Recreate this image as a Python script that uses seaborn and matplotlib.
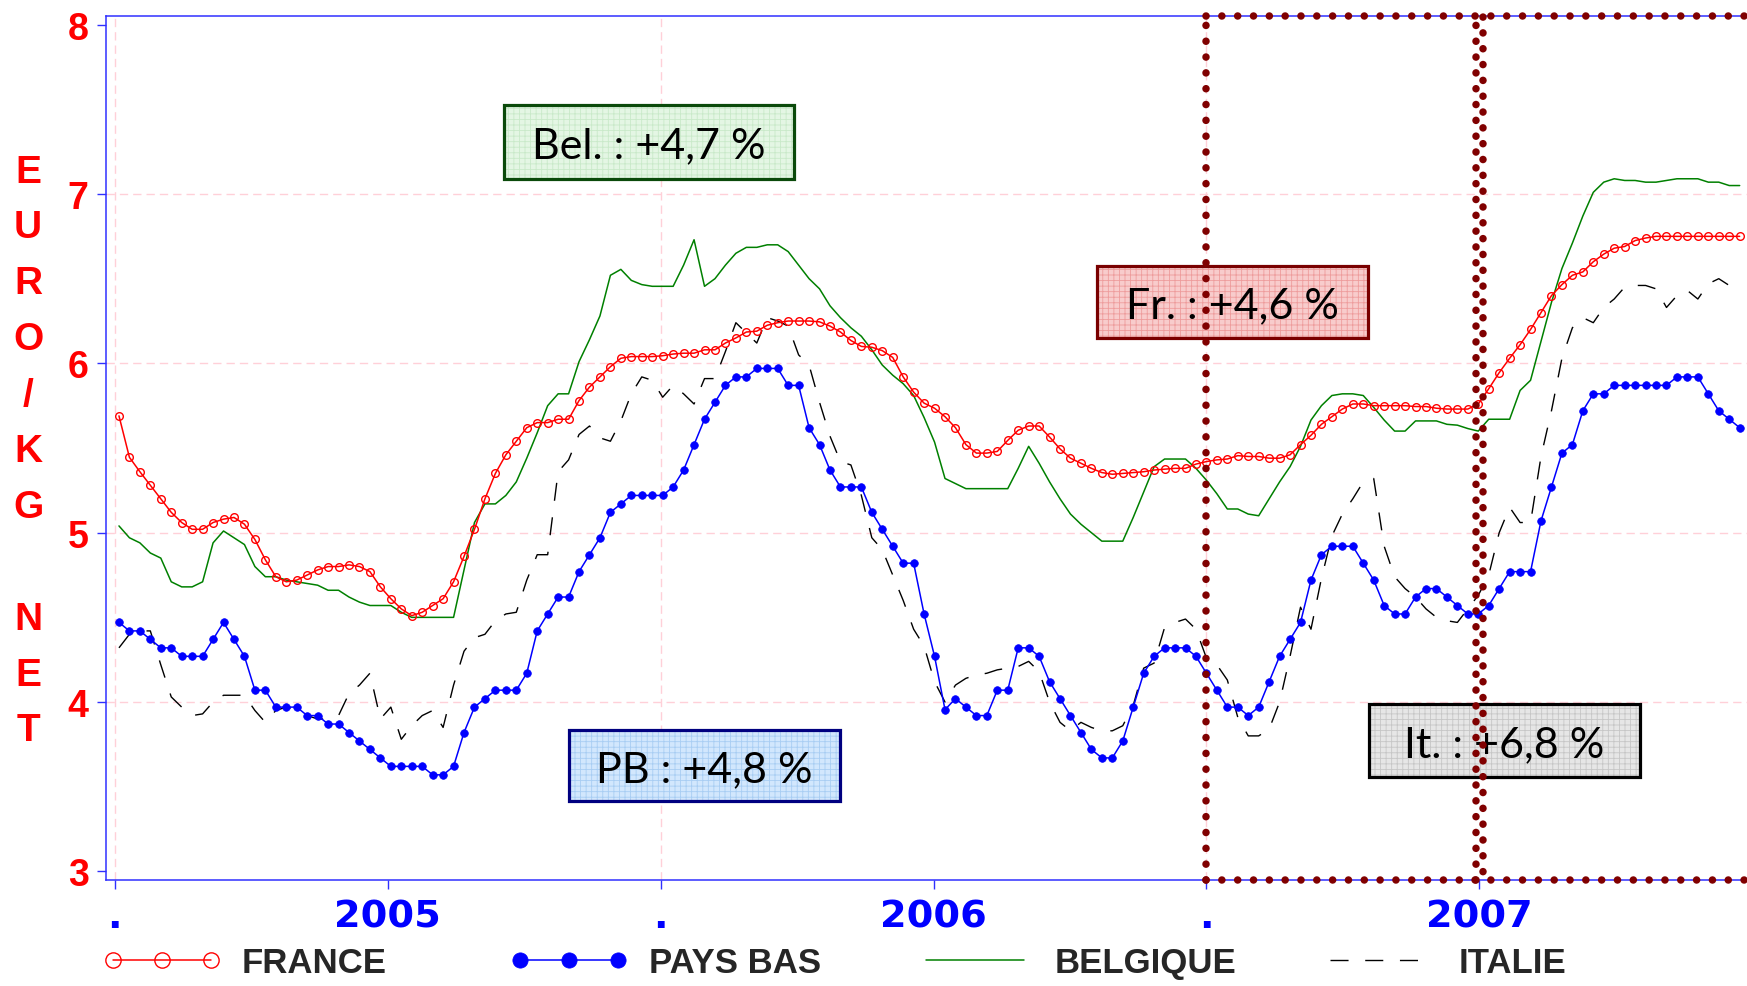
import numpy as np
import pandas as pd
import matplotlib
matplotlib.use("Agg")
import matplotlib.pyplot as plt
from matplotlib.patches import Rectangle
import seaborn as sns

# ---------------- data (weekly prices, EURO/KG NET) ----------------
france = [
    5.69, 5.445, 5.36, 5.28, 5.20, 5.12, 5.06, 5.02, 5.02, 5.06, 5.08, 5.09, 5.05, 4.96, 4.84,
    4.74, 4.71, 4.72, 4.75, 4.78, 4.80, 4.80, 4.81, 4.80, 4.77, 4.68, 4.61,
    4.55, 4.51, 4.53, 4.57, 4.61, 4.71, 4.86, 5.02, 5.20, 5.35, 5.46, 5.54, 5.62, 5.65, 5.65,
    5.67, 5.67, 5.78, 5.86, 5.92, 5.98, 6.03, 6.04, 6.04, 6.04,
    6.045, 6.055, 6.06, 6.06, 6.08, 6.08, 6.12, 6.15, 6.185, 6.19, 6.225, 6.24, 6.25, 6.25,
    6.25, 6.245, 6.22, 6.185, 6.135, 6.10, 6.095, 6.075, 6.035, 5.92, 5.83, 5.765, 5.735, 5.685,
    5.62, 5.52, 5.47, 5.47, 5.48, 5.545, 5.605, 5.63, 5.63, 5.565, 5.495, 5.44, 5.41, 5.38,
    5.355, 5.345, 5.35, 5.355, 5.36, 5.37, 5.375, 5.38, 5.38, 5.405, 5.42, 5.43,
    5.435, 5.455, 5.45, 5.45, 5.44, 5.44, 5.46, 5.52, 5.575, 5.64, 5.685, 5.73, 5.76, 5.76,
    5.75, 5.75, 5.75, 5.75, 5.745, 5.745, 5.735, 5.73, 5.73, 5.73,
    5.76, 5.85, 5.945, 6.03, 6.11, 6.20, 6.30, 6.40, 6.465, 6.52, 6.54, 6.60, 6.645, 6.68,
    6.69, 6.725, 6.74, 6.75, 6.75, 6.75, 6.75, 6.75, 6.75, 6.75, 6.75, 6.75,
]
pays_bas = [
    4.47, 4.42, 4.42, 4.37, 4.32, 4.32, 4.27, 4.27, 4.27, 4.37, 4.47, 4.37, 4.27, 4.07, 4.07,
    3.97, 3.97, 3.97, 3.92, 3.92, 3.87, 3.87, 3.82, 3.77, 3.72, 3.67,
    3.62, 3.62, 3.62, 3.62, 3.57, 3.57, 3.62, 3.82, 3.97, 4.02, 4.07, 4.07, 4.07, 4.17, 4.42,
    4.52, 4.62, 4.62, 4.77, 4.87, 4.97, 5.12, 5.17, 5.22, 5.22, 5.22, 5.22,
    5.27, 5.37, 5.52, 5.67, 5.77, 5.87, 5.92, 5.92, 5.97, 5.97, 5.97, 5.87, 5.87, 5.62, 5.52,
    5.37, 5.27, 5.27, 5.27, 5.12, 5.02, 4.92, 4.82, 4.82, 4.52, 4.27, 3.955,
    4.02, 3.97, 3.92, 3.92, 4.07, 4.07, 4.32, 4.32, 4.27, 4.12, 4.02, 3.92, 3.82, 3.72, 3.67,
    3.67, 3.77, 3.97, 4.17, 4.27, 4.32, 4.32, 4.32, 4.27, 4.17, 4.07, 3.97,
    3.97, 3.92, 3.97, 4.12, 4.27, 4.37, 4.47, 4.72, 4.87, 4.92, 4.92, 4.92, 4.82, 4.72, 4.57,
    4.52, 4.52, 4.62, 4.67, 4.67, 4.62, 4.57, 4.52,
    4.52, 4.57, 4.67, 4.77, 4.77, 4.77, 5.07, 5.27, 5.47, 5.52, 5.72, 5.82, 5.82, 5.87, 5.87,
    5.87, 5.87, 5.87, 5.87, 5.92, 5.92, 5.92, 5.82, 5.72, 5.67, 5.62,
]
belgique = [
    5.04, 4.97, 4.94, 4.88, 4.85, 4.71, 4.68, 4.68, 4.71, 4.94, 5.01, 4.97, 4.93, 4.80, 4.74,
    4.74, 4.72, 4.71, 4.70, 4.69, 4.66, 4.66, 4.62, 4.59, 4.57, 4.57, 4.57,
    4.53, 4.50, 4.50, 4.50, 4.50, 4.50, 4.78, 5.06, 5.17, 5.17, 5.22, 5.30, 5.44, 5.59, 5.75,
    5.82, 5.82, 6.01, 6.14, 6.28, 6.52, 6.555, 6.49, 6.465, 6.455, 6.455,
    6.455, 6.58, 6.73, 6.455, 6.50, 6.58, 6.65, 6.685, 6.685, 6.70, 6.70, 6.66, 6.58, 6.50,
    6.44, 6.34, 6.27, 6.21, 6.16, 6.08, 5.99, 5.93, 5.88, 5.81, 5.68, 5.535, 5.32,
    5.29, 5.26, 5.26, 5.26, 5.26, 5.26, 5.38, 5.51, 5.41, 5.30, 5.20, 5.11, 5.05, 5.00, 4.95,
    4.95, 4.95, 5.09, 5.24, 5.39, 5.435, 5.435, 5.435, 5.38, 5.31, 5.23, 5.14,
    5.14, 5.11, 5.10, 5.20, 5.30, 5.39, 5.51, 5.665, 5.75, 5.81, 5.82, 5.82, 5.81, 5.74, 5.665,
    5.60, 5.60, 5.66, 5.66, 5.66, 5.64, 5.635, 5.615,
    5.60, 5.67, 5.67, 5.67, 5.84, 5.90, 6.13, 6.36, 6.56, 6.71, 6.87, 7.01, 7.07, 7.09, 7.08,
    7.08, 7.07, 7.07, 7.08, 7.09, 7.09, 7.09, 7.07, 7.07, 7.05, 7.05,
]
italie = [
    4.32, 4.40, 4.42, 4.42, 4.22, 4.03, 3.97, 3.92, 3.93, 4.00, 4.04, 4.04, 4.04, 3.95, 3.88,
    3.95, 3.97, 3.95, 3.92, 3.90, 3.90, 3.92, 4.05, 4.10, 4.17, 3.90,
    3.97, 3.78, 3.86, 3.92, 3.95, 3.85, 4.10, 4.30, 4.38, 4.40, 4.48, 4.52, 4.53, 4.72, 4.87,
    4.87, 5.36, 5.43, 5.58, 5.63, 5.56, 5.54, 5.66, 5.82, 5.92, 5.90, 5.80,
    5.87, 5.82, 5.76, 5.91, 5.91, 6.07, 6.24, 6.18, 6.12, 6.27, 6.25, 6.22, 6.05, 5.99, 5.77,
    5.57, 5.42, 5.40, 5.22, 4.97, 4.90, 4.75, 4.60, 4.43, 4.33, 4.12, 4.00,
    4.10, 4.14, 4.16, 4.17, 4.19, 4.20, 4.21, 4.24, 4.18, 4.00, 3.88, 3.83, 3.88, 3.85, 3.83,
    3.83, 3.86, 3.98, 4.20, 4.23, 4.44, 4.47, 4.49, 4.43, 4.26, 4.22, 4.13,
    3.91, 3.80, 3.80, 3.84, 4.00, 4.27, 4.56, 4.43, 4.73, 4.98, 5.11, 5.20, 5.30, 5.32, 4.92,
    4.74, 4.67, 4.62, 4.55, 4.50, 4.48, 4.47, 4.55,
    4.63, 4.75, 5.00, 5.15, 5.06, 5.06, 5.45, 5.72, 6.03, 6.21, 6.27, 6.24, 6.33, 6.38, 6.45,
    6.46, 6.46, 6.44, 6.33, 6.40, 6.43, 6.38, 6.47, 6.50, 6.46, 6.45,
]
series_labels = ["FRANCE", "PAYS BAS", "BELGIQUE", "ITALIE"]
x_tick_labels = [".", "2005", ".", "2006", ".", "2007"]
y_tick_values = [3, 4, 5, 6, 7, 8]
y_axis_title = "EURO/KG NET"
box_texts = ["Bel. : +4,7 %", "Fr. : +4,6 %", "PB : +4,8 %", "It. : +6,8 %"]

n = len(france)
assert len(pays_bas) == n and len(belgique) == n and len(italie) == n, (
    len(france), len(pays_bas), len(belgique), len(italie))

df = pd.DataFrame({"semaine": np.arange(n), "FRANCE": france, "PAYS BAS": pays_bas,
                   "BELGIQUE": belgique, "ITALIE": italie})

# ---------------- style ----------------
sns.set_style("white")
plt.rcParams["font.family"] = ["Liberation Sans", "DejaVu Sans"]
plt.rcParams["hatch.linewidth"] = 0.6

W, H = 1747, 987
fig = plt.figure(figsize=(W / 100, H / 100), dpi=100)
AX_L, AX_R, AX_T, AX_B = 106, W, 16.7, 881          # axes frame in pixels
ax = fig.add_axes([AX_L / W, 1 - AX_B / H, (AX_R - AX_L) / W, (AX_B - AX_T) / H])
ax_w, ax_h = AX_R - AX_L, AX_B - AX_T

XMIN, XMAX = -1.24, 155.7
YMIN, YMAX = 2.949, 8.053
tick_pos = -0.4 + 26.1 * np.arange(len(x_tick_labels))

# pink dashed grid
grid_kw = dict(color="#ffd0d8", lw=1.0, dashes=(6, 3.6), zorder=0)
for yv in y_tick_values[1:-1]:
    ax.axhline(yv, **grid_kw)
for xv in tick_pos[::2]:
    ax.axvline(xv, **grid_kw)

# ---------------- series ----------------
sns.lineplot(data=df, x="semaine", y="BELGIQUE", ax=ax, color="#008000", linewidth=1.1,
             label="BELGIQUE", errorbar=None, zorder=2)
sns.lineplot(data=df, x="semaine", y="ITALIE", ax=ax, color="black", linewidth=1.0,
             linestyle=(0, (13, 12)), label="ITALIE", errorbar=None, zorder=2)
sns.lineplot(data=df, x="semaine", y="PAYS BAS", ax=ax, color="#0000ff", linewidth=1.1,
             marker="o", markersize=5.5, markerfacecolor="#0000ff",
             markeredgecolor="#0000ff", markeredgewidth=0.5,
             label="PAYS BAS", errorbar=None, zorder=3)
sns.lineplot(data=df, x="semaine", y="FRANCE", ax=ax, color="#ff0000", linewidth=1.1,
             marker="o", markersize=5.5, markerfacecolor="none",
             markeredgecolor="#ff0000", markeredgewidth=1.0,
             label="FRANCE", errorbar=None, zorder=4)
if ax.get_legend() is not None:
    ax.get_legend().remove()

# ---------------- axes ----------------
ax.set_xlim(XMIN, XMAX)
ax.set_ylim(YMIN, YMAX)
ax.set_xlabel("")
ax.set_ylabel("")
for s in ["left", "bottom", "top"]:
    ax.spines[s].set_color("#3030ff")
    ax.spines[s].set_linewidth(1.1)
    ax.spines[s].set_visible(True)
ax.spines["right"].set_visible(False)

ax.set_xticks(tick_pos)
ax.set_xticklabels(x_tick_labels, color="#0000ff", fontweight="bold", fontsize=27.5,
                   family="DejaVu Sans")
ax.set_yticks(y_tick_values)
ax.set_yticklabels([str(v) for v in y_tick_values], color="#ff0000",
                   fontweight="bold", fontsize=27)
ax.tick_params(axis="both", which="major", direction="out", length=6.5, width=1.0,
               color="#3030ff", bottom=True, left=True, top=False, right=False)
ax.tick_params(axis="x", pad=7)
ax.tick_params(axis="y", pad=6)

fig.text(28 / W, 1 - 452 / H, "\n".join(list(y_axis_title)), ha="center", va="center",
         color="#ff0000", fontweight="bold", fontsize=28, linespacing=1.71)

# ---------------- annotation boxes ----------------
# (left px, top px, width px, height px, face, hatch colour, edge)
box_geom = [
    (504, 106, 290, 74, "#e4f6e4", "#c9e9c9", "#0b4a0b"),
    (1097, 267, 271, 72, "#f8cccc", "#ee9c9c", "#7a0000"),
    (569, 731, 271, 71, "#d2e7fd", "#a8cdf3", "#000080"),
    (1369, 705, 271, 73, "#e6e6e6", "#c6c6c6", "#000000"),
]
for txt, (bl, bt, bw, bh, fc, hc, ec) in zip(box_texts, box_geom):
    x0 = (bl - AX_L) / ax_w
    y0 = (AX_B - (bt + bh)) / ax_h
    w, h = bw / ax_w, bh / ax_h
    ax.add_patch(Rectangle((x0, y0), w, h, transform=ax.transAxes, facecolor=fc,
                           edgecolor="none", zorder=5))
    ax.add_patch(Rectangle((x0, y0), w, h, transform=ax.transAxes, fill=False,
                           hatch="+++", edgecolor=hc, linewidth=0, zorder=5.1))
    ax.add_patch(Rectangle((x0, y0), w, h, transform=ax.transAxes, fill=False,
                           edgecolor=ec, linewidth=2.3, zorder=5.2))
    ax.text(x0 + w / 2, y0 + h / 2, txt, transform=ax.transAxes, ha="center",
            va="center_baseline", fontsize=31, family=["Lato", "DejaVu Sans"],
            color="black", zorder=5.5)

# ---------------- maroon dotted frame ----------------
dot_kw = dict(color="#800000", linewidth=5.4, dash_capstyle="round", clip_on=False, zorder=8)
dots = (0, (0.01, 2.1))
x_mark1, x_mark2 = tick_pos[4], tick_pos[5]
ax.plot([x_mark1, x_mark1], [YMIN, YMAX], linestyle=dots, **dot_kw)
ax.plot([x_mark2 - 0.3, x_mark2 - 0.3], [YMIN, YMAX], linestyle=dots, **dot_kw)
ax.plot([x_mark2 + 0.32, x_mark2 + 0.32], [YMIN, YMAX], linestyle=(1.0, (0.01, 2.1)), **dot_kw)
ax.plot([x_mark1, XMAX], [YMAX, YMAX], linestyle=dots, **dot_kw)
ax.plot([x_mark1, XMAX], [YMIN, YMIN], linestyle=dots, **dot_kw)

# ---------------- legend ----------------
handles, labels = ax.get_legend_handles_labels()
hmap = dict(zip(labels, handles))
legend_x = [103, 510, 916, 1320]
for lab, lx in zip(series_labels, legend_x):
    fig.legend([hmap[lab]], [lab], loc="center left", bbox_to_anchor=(lx / W, 1 - 964 / H),
               bbox_transform=fig.transFigure, frameon=False, borderpad=0, borderaxespad=0,
               handlelength=3.4, handletextpad=0.6, numpoints=3, markerscale=2.0,
               prop=dict(family="Liberation Sans", weight="bold", size=25))

fig.savefig("out.png", dpi=100)
